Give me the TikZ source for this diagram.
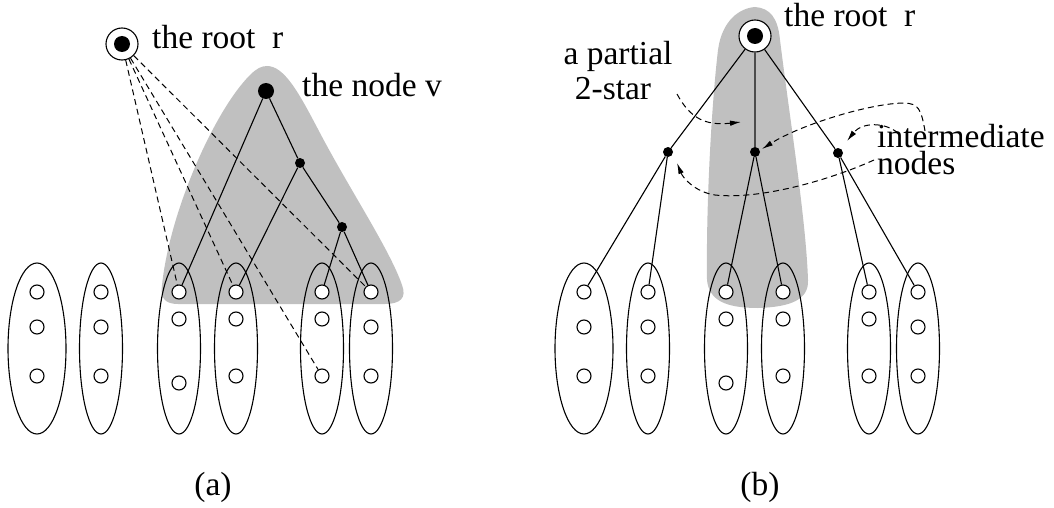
\documentclass[tikz,border=0pt]{standalone}
\usepackage{fontspec}
\setmainfont{Liberation Serif}
\usetikzlibrary{shapes.geometric,arrows.meta}
\definecolor{regiongray}{RGB}{192,192,192}
\tikzset{
  ell/.style={ellipse, draw, line width=1.1pt, minimum height=171pt, inner sep=0pt},
  oc/.style={circle, draw, fill=white, line width=1.1pt, minimum size=14pt, inner sep=0pt},
  rootring/.style={circle, draw, fill=white, line width=1.1pt, minimum size=32pt, inner sep=0pt},
  bigdot/.style={circle, fill=black, minimum size=16pt, inner sep=0pt},
  smalldot/.style={circle, fill=black, minimum size=10pt, inner sep=0pt},
  edge/.style={line width=1.1pt},
  dline/.style={line width=1pt, dash pattern=on 6pt off 4pt},
  darr/.style={line width=1pt, dash pattern=on 6pt off 4pt, -{Latex[length=11pt,width=5.5pt]}},
  lbl/.style={font=\fontsize{33.5pt}{40pt}\selectfont, inner sep=0pt},
}
\begin{document}
\begin{tikzpicture}[x=1pt,y=-1pt]
\useasboundingbox (0,0) rectangle (1054,508);

% ---------- shaded regions ----------
\fill[regiongray] (267,66)
  .. controls (285,66) and (300,95) .. (320,133)
  .. controls (350,190) and (390,250) .. (402,285)
  .. controls (407,298) and (400,304) .. (385,304)
  -- (178,304)
  .. controls (165,304) and (160,298) .. (162,285)
  .. controls (170,210) and (215,110) .. (250,75)
  .. controls (256,69) and (261,66) .. (267,66) -- cycle;

\fill[regiongray] (755,7)
  .. controls (770,8) and (778,18) .. (780,40)
  .. controls (790,120) and (806,220) .. (808,280)
  .. controls (809,300) and (790,307) .. (758,308)
  .. controls (725,308) and (709,300) .. (707,280)
  .. controls (706,200) and (712,100) .. (718,50)
  .. controls (722,20) and (740,8) .. (755,7) -- cycle;

% ---------- ellipse groups ----------
\foreach \p/\s in {a/0, b/547} {
  \begin{scope}[xshift=\s pt]
  \foreach \i/\x/\w/\ya/\yb in {1/37/58/327/376, 2/101/43/327/376, 3/179/43/319/383,
                                4/236/43/319/376, 5/322/43/319/376, 6/371/43/327/376} {
    \node[ell, minimum width=\w pt] (\p\i) at (\x,348.5) {};
    \node[oc] (\p\i-t) at (\x,292) {};
    \node[oc] (\p\i-m) at (\x,\ya) {};
    \node[oc] (\p\i-b) at (\x,\yb) {};
  }
  \end{scope}
}

% ---------- panel (a) ----------
\node[rootring] (ra) at (122,44) {};
\node[bigdot] at (ra.center) {};
\node[bigdot] (v) at (266,91) {};
\node[smalldot] (v1) at (300,163) {};
\node[smalldot] (v2) at (342,227) {};

\draw[edge] (v) -- (a3-t);
\draw[edge] (v) -- (v1);
\draw[edge] (v1) -- (a4-t);
\draw[edge] (v1) -- (v2);
\draw[edge] (v2) -- (a5-t);
\draw[edge] (v2) -- (a6-t);

\draw[dline] (ra) -- (a3-t);
\draw[dline] (ra) -- (a4-t);
\draw[dline] (ra) -- (a5-b);
\draw[dline] (ra) -- (a6-t);

\node[lbl, anchor=base west] (tra) at (152,49) {the root\ \ r};
\node[lbl, anchor=base west] (tnv) at (302,97) {the node v};
\node[lbl, anchor=base] (capa) at (213,495) {(a)};

% ---------- panel (b) ----------
\node[rootring] (rb) at (755,36) {};
\node[bigdot] at (rb.center) {};
\node[smalldot] (il) at (668,152) {};
\node[smalldot] (im) at (755,152) {};
\node[smalldot] (ir) at (838,153) {};

\draw[edge] (rb) -- (il);
\draw[line width=1.5pt, black!70] (rb) -- (im);
\draw[edge] (rb) -- (ir);
\draw[edge] (il) -- (b1-t);
\draw[edge] (il) -- (b2-t);
\draw[edge] (im) -- (b3-t);
\draw[edge] (im) -- (b4-t);
\draw[edge] (ir) -- (b5-t);
\draw[edge] (ir) -- (b6-t);

\node[lbl, anchor=base west] (trb) at (784,27) {the root\ \ r};
\node[lbl, anchor=base] (tps1) at (618,65) {a partial};
\node[lbl, anchor=base] (tps2) at (613,100) {2-star};
\node[lbl, anchor=base west] (tin) at (877,147)
  {\vtop{\baselineskip=27.5pt \hbox{intermediate}\hbox{nodes}}};
\node[lbl, anchor=base] (capb) at (760,495) {(b)};

\coordinate (s1) at (677,94);
\coordinate (e1) at (741,122);
\coordinate (s2) at (925,131);
\coordinate (e2) at (762,149);
\coordinate (s3) at (898,133);
\coordinate (e3) at (847,141);
\coordinate (s4) at (874,160);
\coordinate (e4) at (677,163);

\draw[darr] (s1) .. controls (690,118) and (705,126) .. (e1);
\draw[darr] (s2) .. controls (921,108) and (918,104) .. (905,103)
                 .. controls (870,103) and (800,125) .. (e2);
\draw[darr] (s3) .. controls (885,122) and (862,122) .. (e3);
\draw[darr] (s4) .. controls (830,180) and (760,200) .. (715,195)
                 .. controls (695,192) and (683,178) .. (e4);
\end{tikzpicture}
\end{document}
